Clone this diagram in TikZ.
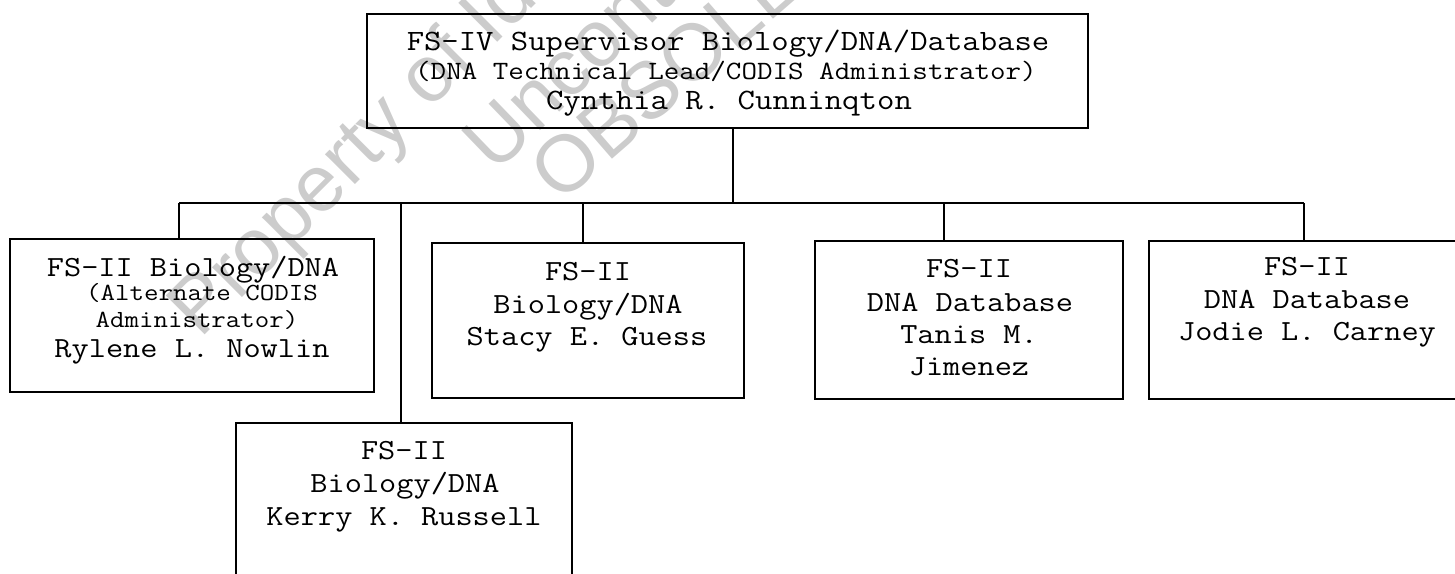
\documentclass[tikz,border=0pt]{standalone}
\usepackage{fontspec}
\setmainfont{Latin Modern Mono}[FakeStretch=1.143]
\newfontfamily\wmfont{Liberation Sans}
\tikzset{
  box/.style={draw, line width=0.9pt, rectangle, inner sep=0pt},
  conn/.style={line width=0.9pt},
  ln/.style={anchor=base, inner sep=0pt, font=\fontsize{14.6pt}{16pt}\selectfont},
  lnsmall/.style={anchor=base, inner sep=0pt, font=\fontsize{12.3pt}{14pt}\selectfont},
  wm/.style={anchor=base west, inner sep=0pt, text=black!20, font=\wmfont\fontsize{40pt}{44pt}\selectfont}
}
\begin{document}
\begin{tikzpicture}[x=0.5pt, y=-0.5pt]
\useasboundingbox (0,0) rectangle (1455,573);
% watermark
\node[wm, rotate=45] (wm1) at (200,340) {Property of Idaho State Police};
\node[wm, rotate=44] (wm2) at (495,175) {Uncontrolled Copy};
\node[wm, rotate=41] (wm3) at (560,205) {OBSOLETE};
% boxes
\node[box, minimum width=360.5pt, minimum height=57pt] (top) at (727.5,71) {};
\node[box, minimum width=182pt, minimum height=76.5pt] (b1) at (192,315.5) {};
\node[box, minimum width=168pt, minimum height=85pt] (b2) at (404,508) {};
\node[box, minimum width=156pt, minimum height=77.5pt] (b3) at (588,320.5) {};
\node[box, minimum width=154pt, minimum height=79pt] (b4) at (969,320) {};
\node[box, minimum width=158pt, minimum height=79pt] (b5) at (1307,320) {};
% texts
\node[ln, font=\fontsize{14.75pt}{16pt}\selectfont] (t0a) at (728,50) {FS-IV Supervisor Biology/DNA/Database};
\node[ln, font=\fontsize{13.2pt}{15pt}\selectfont] (t0b) at (726,79) {(DNA Technical Lead/CODIS Administrator)};
\node[ln, font=\fontsize{14.8pt}{16pt}\selectfont] (t0c) at (729,109) {Cynthia R. Cunninqton};
\node[ln] (t1a) at (193,276) {FS-II Biology/DNA};
\node[lnsmall] (t1b) at (202,300) {(Alternate CODIS};
\node[lnsmall] (t1c) at (197,327) {Administrator)};
\node[ln] (t1d) at (192,357) {Rylene L. Nowlin};
\node[ln] (t2a) at (404,459) {FS-II};
\node[ln] (t2b) at (405,492) {Biology/DNA};
\node[ln] (t2c) at (404,525) {Kerry K. Russell};
\node[ln] (t3a) at (588,280) {FS-II};
\node[ln] (t3b) at (588,313) {Biology/DNA};
\node[ln] (t3c) at (587,345) {Stacy E. Guess};
\node[ln] (t4a) at (969,277) {FS-II};
\node[ln] (t4b) at (970,311) {DNA Database};
\node[ln] (t4c) at (969,343) {Tanis M.};
\node[ln] (t4d) at (969,375) {Jimenez};
\node[ln] (t5a) at (1307,275) {FS-II};
\node[ln] (t5b) at (1307,308) {DNA Database};
\node[ln] (t5c) at (1307,340) {Jodie L. Carney};
% connectors
\coordinate (j0) at (733,203);
\coordinate (d1) at (179,203);
\coordinate (d2) at (401,203);
\coordinate (d3) at (583,203);
\coordinate (d4) at (944,203);
\coordinate (d5) at (1304,203);
\draw[conn] (top.south -| j0) -- (j0);
\draw[conn] (d1) -- (d5);
\draw[conn] (d1) -- (d1 |- b1.north);
\draw[conn] (d2) -- (d2 |- b2.north);
\draw[conn] (d3) -- (d3 |- b3.north);
\draw[conn] (d4) -- (d4 |- b4.north);
\draw[conn] (d5) -- (d5 |- b5.north);
\end{tikzpicture}
\end{document}
